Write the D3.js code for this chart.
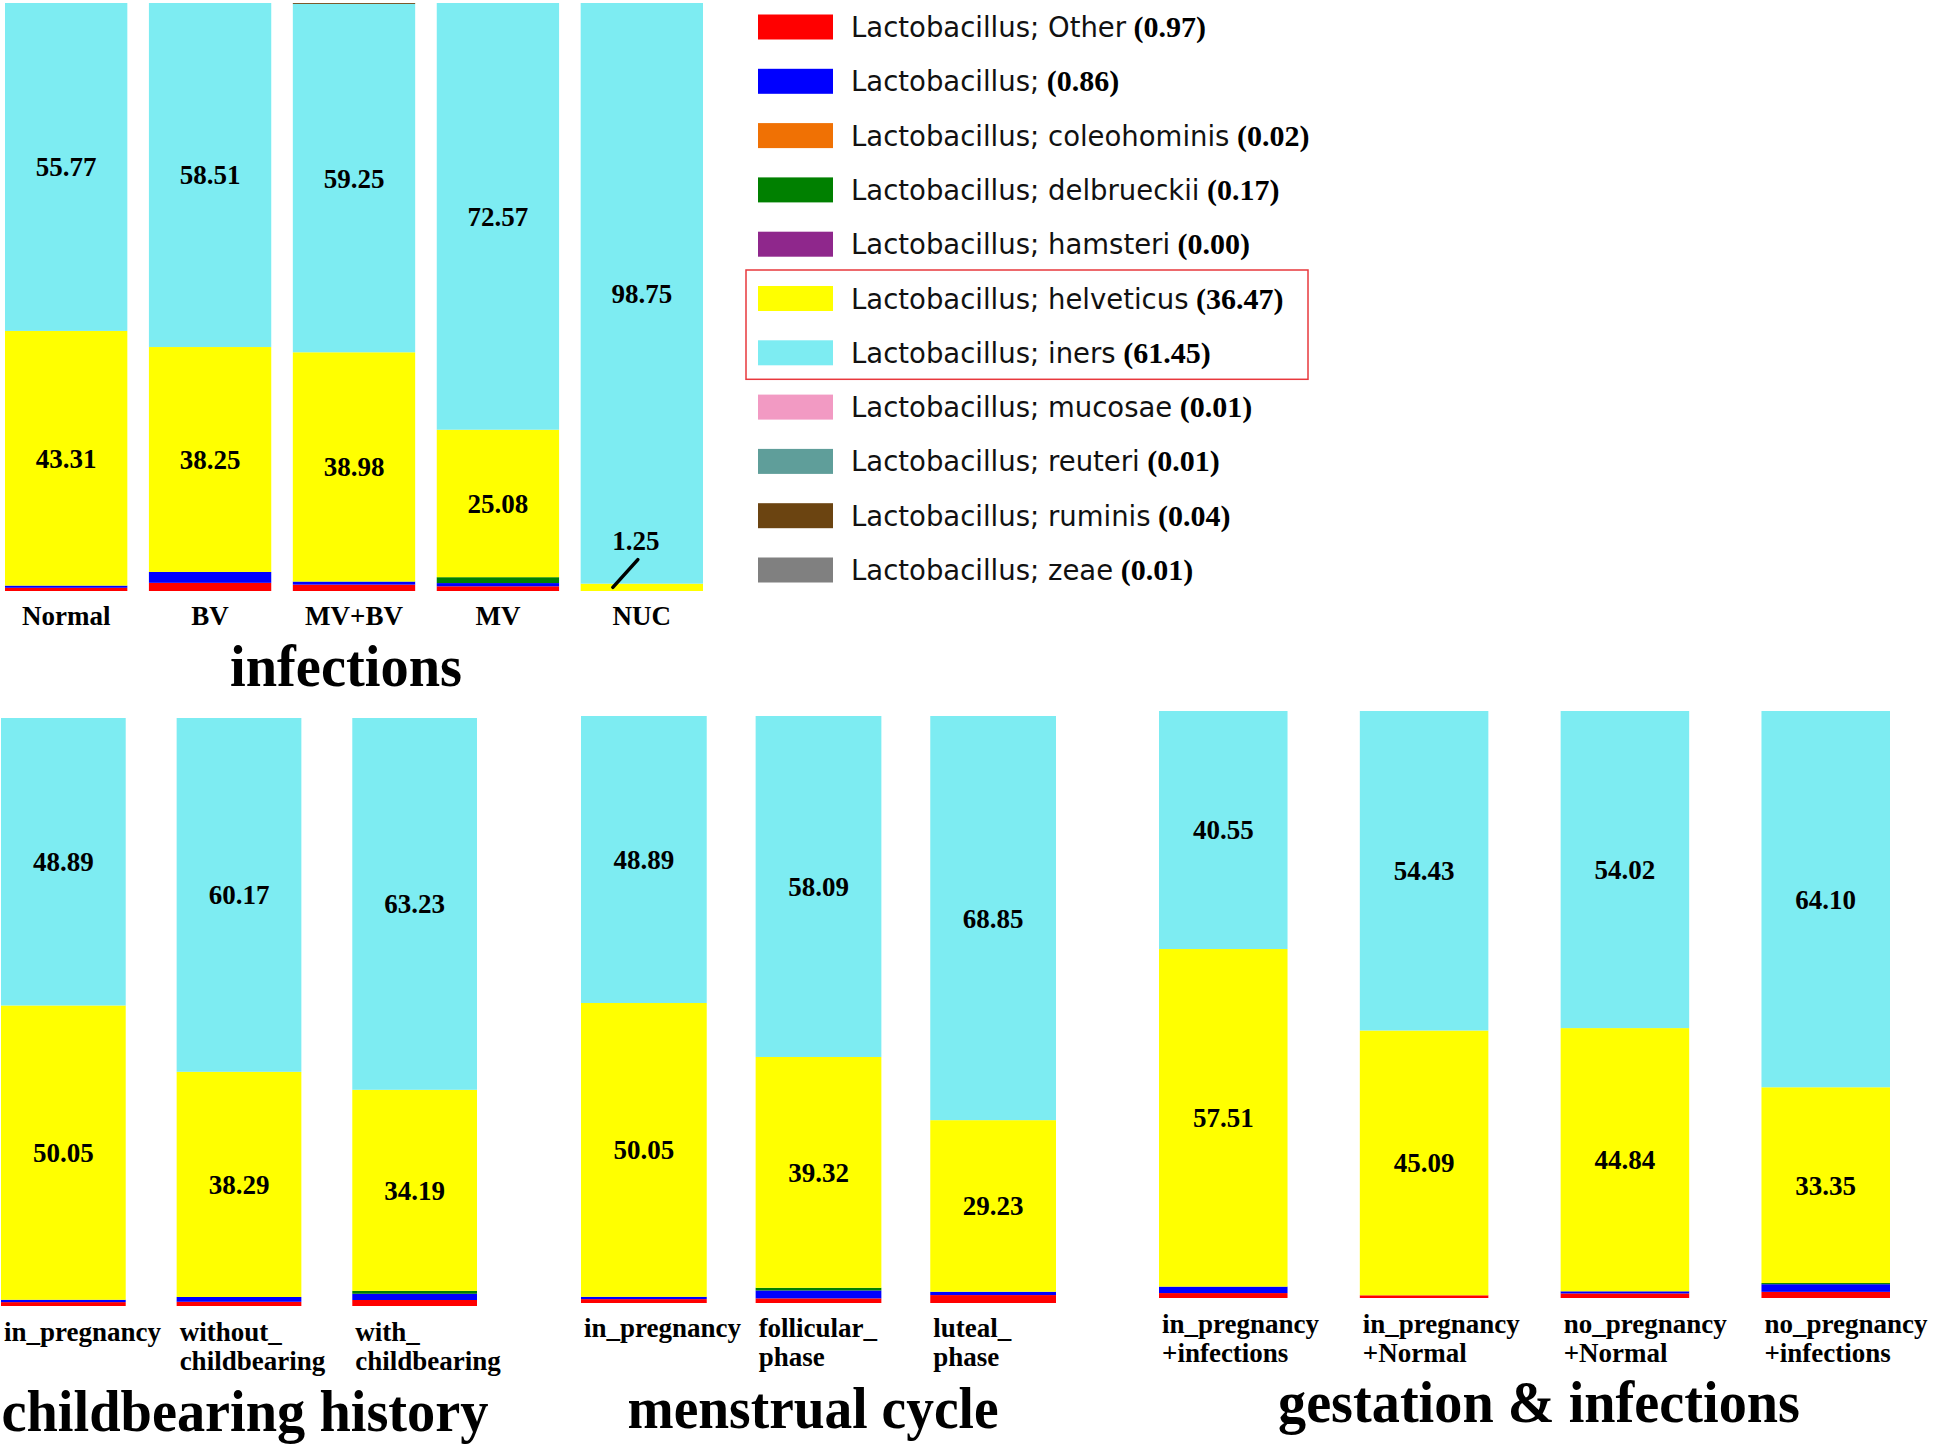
<!DOCTYPE html>
<html>
<head>
<meta charset="utf-8">
<script src="https://cdn.jsdelivr.net/npm/d3@7"></script>
<style>
  body { margin: 0; background: #fff; }
  svg { display: block; }
</style>
</head>
<body>
<script>
// Needed Variables
const width = 1946;
const height = 1446;

// DATA

// species in stacking order (bottom -> top), mean abundance shown in the legend
const species = ["Lactobacillus; Other", "Lactobacillus;", "Lactobacillus; coleohominis", "Lactobacillus; delbrueckii",
  "Lactobacillus; hamsteri", "Lactobacillus; helveticus", "Lactobacillus; iners", "Lactobacillus; mucosae",
  "Lactobacillus; reuteri", "Lactobacillus; ruminis", "Lactobacillus; zeae"];
const speciesMean = [0.97, 0.86, 0.02, 0.17, 0.00, 36.47, 61.45, 0.01, 0.01, 0.04, 0.01];
const speciesColors = ["#ff0000", "#0000ff", "#f07104", "#008000", "#8f278c", "#ffff00", "#7decf2",
  "#f29ac3", "#5f9e9a", "#6b4411", "#808080"];
const labelledSpecies = [5, 6];                                                 // helveticus and iners get value labels
const boxedSpecies = [5, 6];                                                    // legend entries inside the red box

const groupTitles = ["infections", "childbearing history", "menstrual cycle", "gestation & infections"];

const infectionSamples = ["Normal", "BV", "MV+BV", "MV", "NUC"];
const infectionValues = [
  [0.55, 0.37, 0, 0, 0, 43.31, 55.77, 0, 0, 0, 0],
  [1.39, 1.85, 0, 0, 0, 38.25, 58.51, 0, 0, 0, 0],
  [1.08, 0.50, 0, 0.04, 0, 38.98, 59.25, 0, 0, 0.15, 0],
  [0.80, 0.55, 0, 1.00, 0, 25.08, 72.57, 0, 0, 0, 0],
  [0, 0, 0, 0, 0, 1.25, 98.75, 0, 0, 0, 0]
];

const childbearingSamples = ["in_pregnancy", "without_\nchildbearing", "with_\nchildbearing"];
const childbearingValues = [
  [0.66, 0.40, 0, 0, 0, 50.05, 48.89, 0, 0, 0, 0],
  [0.72, 0.82, 0, 0, 0, 38.29, 60.17, 0, 0, 0, 0],
  [1.02, 1.06, 0, 0.50, 0, 34.19, 63.23, 0, 0, 0, 0]
];

const menstrualSamples = ["in_pregnancy", "follicular_\nphase", "luteal_\nphase"];
const menstrualValues = [
  [0.66, 0.40, 0, 0, 0, 50.05, 48.89, 0, 0, 0, 0],
  [0.79, 1.35, 0, 0.45, 0, 39.32, 58.09, 0, 0, 0, 0],
  [1.35, 0.57, 0, 0, 0, 29.23, 68.85, 0, 0, 0, 0]
];

const gestationSamples = ["in_pregnancy\n+infections", "in_pregnancy\n+Normal", "no_pregnancy\n+Normal", "no_pregnancy\n+infections"];
const gestationValues = [
  [0.84, 1.10, 0, 0, 0, 57.51, 40.55, 0, 0, 0, 0],
  [0.45, 0, 0.03, 0, 0, 45.09, 54.43, 0, 0, 0, 0],
  [0.78, 0.36, 0, 0, 0, 44.84, 54.02, 0, 0, 0, 0],
  [1.05, 1.30, 0, 0.20, 0, 33.35, 64.10, 0, 0, 0, 0]
];

// LAYOUT of the four panels
const panels = [
  {title: groupTitles[0], samples: infectionSamples, values: infectionValues,
   x: [5, 703], y: [591, 3], padding: 0.15, align: 'middle', labelY: 625, titleX: 346, titleY: 686, titleLength: 232},
  {title: groupTitles[1], samples: childbearingSamples, values: childbearingValues,
   x: [1, 477], y: [1306, 718], padding: 0.29, align: 'start', labelY: 1341, titleX: 245, titleY: 1431, titleLength: 487},
  {title: groupTitles[2], samples: menstrualSamples, values: menstrualValues,
   x: [581, 1056], y: [1303, 716], padding: 0.28, align: 'start', labelY: 1337, titleX: 813, titleY: 1428, titleLength: 371},
  {title: groupTitles[3], samples: gestationSamples, values: gestationValues,
   x: [1159, 1890], y: [1298, 711], padding: 0.36, align: 'start', labelY: 1333, titleX: 1539, titleY: 1422, titleLength: 522}
];
const lineGap = 29;                                                             // distance between two label lines

const serif = "'Liberation Serif', 'Times New Roman', serif";
const sans = "'DejaVu Sans', sans-serif";
const fmt = d3.format(".2f");
const keys = species.map((s, i) => i);

// Create svg element
const svg = d3.select('body')
  .append('svg')
  .attr('width', width)
  .attr('height', height)
  .style('background', '#fff');

// Draw one stacked panel
function renderPanel(p) {
  const rows = p.samples.map((s, i) => {                                        // table for d3.stack
    const row = {sample: s};
    keys.forEach(k => row[k] = p.values[i][k]);
    return row;
  });

  const xScale = d3.scaleBand()
    .domain(p.samples)
    .range(p.x)
    .paddingInner(p.padding)
    .paddingOuter(0);

  const yScale = d3.scaleLinear()
    .domain([0, 100])
    .range(p.y);

  const series = d3.stack().keys(keys)(rows);

  const g = svg.append('g').classed('panel', true);

  // bars
  g.append('g')
    .selectAll('g')
    .data(series)
    .join('g')
    .attr('fill', d => speciesColors[d.key])
    .selectAll('rect')
    .data(d => d)
    .join('rect')
    .attr('x', d => xScale(d.data.sample))
    .attr('y', d => yScale(d[1]))
    .attr('width', xScale.bandwidth())
    .attr('height', d => yScale(d[0]) - yScale(d[1]));

  // value labels for the two main species
  series.filter(s => labelledSpecies.includes(s.key)).forEach(s => {
    s.forEach(d => {
      const v = d[1] - d[0];
      const cx = xScale(d.data.sample) + xScale.bandwidth() / 2;
      const top = yScale(d[1]);
      const mid = (yScale(d[0]) + yScale(d[1])) / 2;
      if (v >= 5) {
        g.append('text')
          .attr('x', cx).attr('y', mid).attr('dy', '0.35em')
          .attr('text-anchor', 'middle')
          .style('font', `bold 27px ${serif}`)
          .text(fmt(v));
      } else {                                                                  // thin slice: label above with a leader line
        g.append('line')
          .attr('x1', cx - 29).attr('y1', mid)
          .attr('x2', cx - 4).attr('y2', top - 24)
          .attr('stroke', '#000').attr('stroke-width', 3.5).attr('stroke-linecap', 'round');
        g.append('text')
          .attr('x', cx - 6).attr('y', top - 34)
          .attr('text-anchor', 'middle')
          .style('font', `bold 27px ${serif}`)
          .text(fmt(v));
      }
    });
  });

  // category labels, one text per line
  const lines = p.samples.flatMap(s => s.split('\n').map((t, i) => ({sample: s, text: t, line: i})));
  g.append('g')
    .selectAll('text')
    .data(lines)
    .join('text')
    .attr('text-anchor', p.align)
    .attr('x', d => p.align === 'middle' ? xScale(d.sample) + xScale.bandwidth() / 2 : xScale(d.sample) + 3)
    .attr('y', d => p.labelY + d.line * lineGap)
    .style('font', `bold 27px ${serif}`)
    .text(d => d.text);

  // group title
  g.append('text')
    .attr('x', p.titleX)
    .attr('y', p.titleY)
    .attr('text-anchor', 'middle')
    .attr('textLength', p.titleLength)
    .attr('lengthAdjust', 'spacingAndGlyphs')
    .style('font', `bold 60px ${serif}`)
    .text(p.title);
}

panels.forEach(renderPanel);

// LEGEND
const legendY = d3.scalePoint()
  .domain(species)
  .range([27, 570]);

const legend = svg.append('g').classed('legend', true);

legend.selectAll('rect')
  .data(species)
  .join('rect')
  .attr('x', 758)
  .attr('y', d => legendY(d) - 12.5)
  .attr('width', 75)
  .attr('height', 25)
  .attr('fill', (d, i) => speciesColors[i]);

const legendText = legend.selectAll('text')
  .data(species)
  .join('text')
  .attr('x', 851)
  .attr('y', d => legendY(d) + 10)
  .style('font', `27.5px ${sans}`)
  .attr('fill', '#111');

legendText.append('tspan').text(d => d);
legendText.append('tspan')
  .style('font', `bold 30px ${serif}`)
  .attr('fill', '#000')
  .text((d, i) => ` (${fmt(speciesMean[i])})`);

// red box around helveticus and iners
const boxTop = legendY(species[boxedSpecies[0]]) - 28.5;
const boxBottom = legendY(species[boxedSpecies[1]]) + 26.5;
legend.append('rect')
  .attr('x', 746)
  .attr('y', boxTop)
  .attr('width', 562)
  .attr('height', boxBottom - boxTop)
  .attr('fill', 'none')
  .attr('stroke', '#e8383d')
  .attr('stroke-width', 1.5);
</script>
</body>
</html>
